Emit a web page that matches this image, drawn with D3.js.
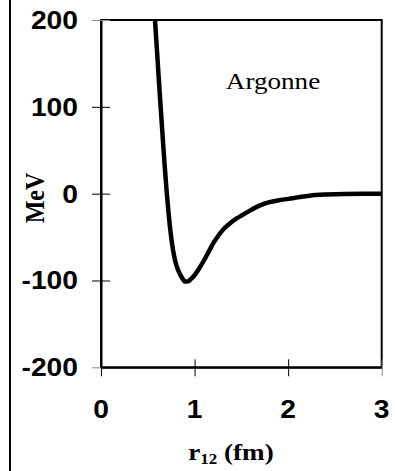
<!DOCTYPE html>
<html>
<head>
<meta charset="utf-8">
<script src="https://cdn.jsdelivr.net/npm/d3@7"></script>
<style>
  body { margin: 0; background: #fff; }
  svg { display: block; }
  .tickLabel { font-family: "Liberation Sans", Arial, sans-serif; font-weight: bold; font-size: 25px; fill: #000; }
  .serif { font-family: "Liberation Serif", "Times New Roman", serif; fill: #000; }
</style>
</head>
<body>
<div id="chart"></div>
<script>
// Argonne potential: separation r12 (fm) and V (MeV)
const radii = [0.577, 0.60, 0.62, 0.64, 0.66, 0.68, 0.70, 0.72, 0.74, 0.76, 0.78, 0.80, 0.83, 0.86, 0.88, 0.90, 0.93, 0.96, 1.0, 1.05, 1.10, 1.15, 1.20, 1.25, 1.30, 1.38, 1.45, 1.52, 1.60, 1.70, 1.80, 1.90, 2.0, 2.1, 2.23, 2.4, 2.6, 3.0];
const potential = [200, 162, 128, 96, 64, 33, 5, -20, -41, -58, -71, -80.5, -89.5, -96, -99.3, -101.3, -101, -98.5, -94, -86, -77, -67, -57, -49, -42, -34, -28.5, -24, -19, -13.5, -9.8, -7.6, -6, -4.3, -2.3, -1, -0.3, -0.2];
const xTicks = [0, 1, 2, 3];
const yTicks = [-200, -100, 0, 100, 200];
const stretch = 1.13; // the original text is drawn a little wide

function initChart(targetElemSelector, width, height) {
    let svg = d3.select(targetElemSelector)
        .append('svg')
        .attr('width', width)
        .attr('height', height);

    // figure frame line on the left
    svg.append('line')
        .attr('x1', 10).attr('x2', 10)
        .attr('y1', 0).attr('y2', height)
        .attr('stroke', '#000')
        .attr('stroke-width', 2);

    return svg;
}

function wideText(parent, x, y, anchor, cls, rotate) {
    return parent.append('g')
        .attr('transform', 'translate(' + x + ',' + y + ') scale(' + stretch + ',1)' + (rotate ? ' rotate(' + rotate + ')' : ''))
        .append('text')
        .attr('class', cls)
        .attr('text-anchor', anchor);
}

function addAxes(chart) {
    let svg = chart.elem, x = chart.x, y = chart.y;
    let [x0, x1] = x.range(), [y0, y1] = y.range();

    // box round the plot
    svg.append('rect')
        .attr('x', x0).attr('y', y1)
        .attr('width', x1 - x0).attr('height', y0 - y1)
        .attr('fill', 'none')
        .attr('stroke', '#000')
        .attr('stroke-width', 2);

    let yAxis = svg.append('g')
        .attr('transform', 'translate(' + x0 + ',0)')
        .call(d3.axisLeft(y).tickValues(yTicks).tickSizeOuter(0).tickFormat(''));
    yAxis.select('.domain').attr('stroke-width', 2);
    yAxis.selectAll('.tick line')
        .attr('x1', -9).attr('x2', 9)
        .attr('stroke', d => Math.abs(d) === 200 ? '#888' : '#000');

    let xAxis = svg.append('g')
        .attr('transform', 'translate(0,' + y0 + ')')
        .call(d3.axisBottom(x).tickValues(xTicks).tickSizeOuter(0).tickFormat(''));
    xAxis.select('.domain').attr('stroke-width', 2);
    xAxis.selectAll('.tick line')
        .attr('y1', -8).attr('y2', 9)
        .attr('stroke', d => d === 3 ? '#888' : '#000');

    yTicks.forEach(d => {
        wideText(svg, 78, y(d), 'end', 'tickLabel')
            .attr('dy', '0.36em')
            .text(d);
    });
    xTicks.forEach(d => {
        wideText(svg, x(d), 418, 'middle', 'tickLabel')
            .text(d);
    });
}

function addLabels(chart) {
    let svg = chart.elem;

    wideText(svg, 44, 198, 'middle', 'serif', -90)
        .attr('font-size', 24)
        .attr('font-weight', 'bold')
        .text('MeV');

    wideText(svg, 273, 89, 'middle', 'serif')
        .attr('font-size', 24)
        .text('Argonne');

    let xl = wideText(svg, 231, 460, 'middle', 'serif')
        .attr('font-size', 24)
        .attr('font-weight', 'bold');
    xl.append('tspan').text('r');
    xl.append('tspan').attr('font-size', 15).attr('dy', 4).text('12');
    xl.append('tspan').attr('dy', -4).text(' (fm)');
}

function addCurve(chart) {
    let line = d3.line()
        .x(d => chart.x(d[0]))
        .y(d => chart.y(d[1]))
        .curve(d3.curveMonotoneX);

    chart.elem.append('path')
        .datum(radii.map((r, i) => [r, potential[i]]))
        .attr('d', line)
        .attr('fill', 'none')
        .attr('stroke', '#000')
        .attr('stroke-width', 4.5)
        .attr('stroke-linejoin', 'round');
}

let width = 395,
    height = 471,
    elem = initChart('#chart', width, height),
    x = d3.scaleLinear().domain([0, 3]).range([101, 381.7]),
    y = d3.scaleLinear().domain([-200, 200]).range([367.3, 20]),
    chart = { elem, x, y };

addAxes(chart);
addCurve(chart);
addLabels(chart);
</script>
</body>
</html>
